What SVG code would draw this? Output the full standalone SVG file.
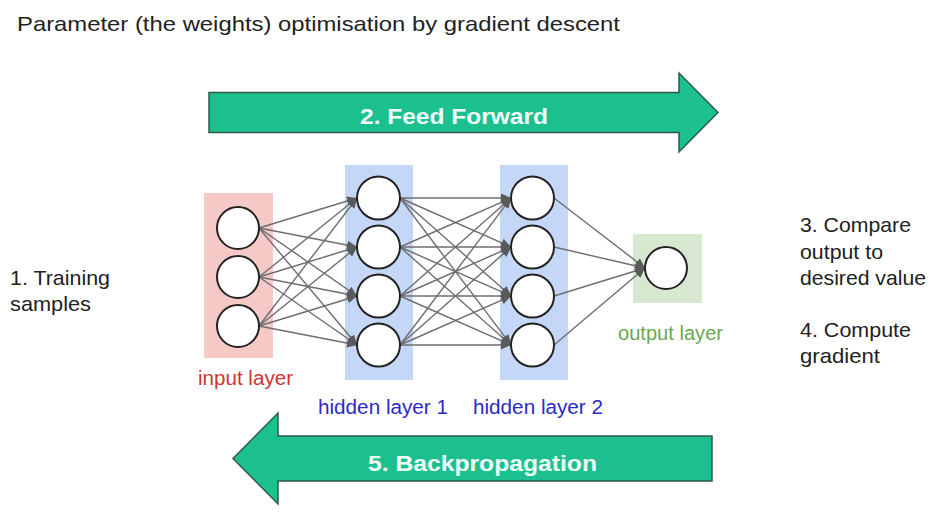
<svg xmlns="http://www.w3.org/2000/svg" width="951" height="520" viewBox="0 0 951 520">
<defs>
<style>
.txt{font-family:"Liberation Sans",Arial,sans-serif;font-size:21px;fill:#222}
.lbl{font-family:"Liberation Sans",Arial,sans-serif;font-size:20px}
.big{font-family:"Liberation Sans",Arial,sans-serif;font-size:22px;font-weight:bold;fill:#effff8}
.arrow{fill:#1cc08f;stroke:#2f5a4a;stroke-width:1.5}
.node{fill:#fff;stroke:#222;stroke-width:2}
.conn line{stroke:#6e6e6e;stroke-width:1.4;marker-end:url(#ah)}
</style>
<marker id="ah" markerUnits="userSpaceOnUse" markerWidth="11" markerHeight="9" refX="10" refY="4.5" orient="auto">
<path d="M0,0 L10,4.5 L0,9 z" fill="#5a5a5a"/>
</marker>
</defs>
<rect width="951" height="520" fill="#fff"/>
<text class="txt" x="17" y="31" textLength="603" lengthAdjust="spacingAndGlyphs">Parameter (the weights) optimisation by gradient descent</text>

<g id="feed-forward">
<polygon class="arrow" points="209,92.5 679,92.5 679,73 718,112.5 679,152 679,132.5 209,132.5"/>
<text class="big" x="360" y="124" textLength="188" lengthAdjust="spacingAndGlyphs">2. Feed Forward</text>
</g>
<g id="backpropagation">
<polygon class="arrow" points="712,436 278,436 278,413 233,458.5 278,504 278,481 712,481"/>
<text class="big" x="368" y="471" textLength="229" lengthAdjust="spacingAndGlyphs">5. Backpropagation</text>
</g>

<g id="layer-bg">
<rect id="input-layer-bg" x="204" y="193" width="69" height="165" fill="#f4c9c6"/>
<rect id="hidden1-bg" x="345" y="165" width="68" height="215" fill="#c5d7f6"/>
<rect id="hidden2-bg" x="500" y="165" width="68" height="215" fill="#c5d7f6"/>
<rect id="output-layer-bg" x="633" y="234" width="69" height="69" fill="#d6e8d0"/>
</g>

<g id="connectors" class="conn">
<line x1="259" y1="228" x2="357" y2="198"/>
<line x1="259" y1="228" x2="357" y2="247"/>
<line x1="259" y1="228" x2="357" y2="296"/>
<line x1="259" y1="228" x2="357" y2="345"/>
<line x1="259" y1="277" x2="357" y2="198"/>
<line x1="259" y1="277" x2="357" y2="247"/>
<line x1="259" y1="277" x2="357" y2="296"/>
<line x1="259" y1="277" x2="357" y2="345"/>
<line x1="259" y1="326" x2="357" y2="198"/>
<line x1="259" y1="326" x2="357" y2="247"/>
<line x1="259" y1="326" x2="357" y2="296"/>
<line x1="259" y1="326" x2="357" y2="345"/>

<line x1="400" y1="198" x2="511" y2="198"/>
<line x1="400" y1="198" x2="511" y2="247"/>
<line x1="400" y1="198" x2="511" y2="296"/>
<line x1="400" y1="198" x2="511" y2="345"/>
<line x1="400" y1="247" x2="511" y2="198"/>
<line x1="400" y1="247" x2="511" y2="247"/>
<line x1="400" y1="247" x2="511" y2="296"/>
<line x1="400" y1="247" x2="511" y2="345"/>
<line x1="400" y1="296" x2="511" y2="198"/>
<line x1="400" y1="296" x2="511" y2="247"/>
<line x1="400" y1="296" x2="511" y2="296"/>
<line x1="400" y1="296" x2="511" y2="345"/>
<line x1="400" y1="345" x2="511" y2="198"/>
<line x1="400" y1="345" x2="511" y2="247"/>
<line x1="400" y1="345" x2="511" y2="296"/>
<line x1="400" y1="345" x2="511" y2="345"/>

<line x1="554" y1="198" x2="645" y2="268"/>
<line x1="554" y1="247" x2="645" y2="268"/>
<line x1="554" y1="296" x2="645" y2="268"/>
<line x1="554" y1="345" x2="645" y2="268"/>
</g>

<g id="input-layer">
<circle class="node" cx="238" cy="228" r="21"/>
<circle class="node" cx="238" cy="277" r="21"/>
<circle class="node" cx="238" cy="326" r="21"/>
<text class="lbl" x="198" y="385" textLength="95" lengthAdjust="spacingAndGlyphs" fill="#d03434">input layer</text>
</g>
<g id="hidden-layer-1">
<circle class="node" cx="378.5" cy="198" r="21.5"/>
<circle class="node" cx="378.5" cy="247" r="21.5"/>
<circle class="node" cx="378.5" cy="296" r="21.5"/>
<circle class="node" cx="378.5" cy="345" r="21.5"/>
<text class="lbl" x="318" y="414" textLength="130" lengthAdjust="spacingAndGlyphs" fill="#2b2bc4">hidden layer 1</text>
</g>
<g id="hidden-layer-2">
<circle class="node" cx="532.5" cy="198" r="21.5"/>
<circle class="node" cx="532.5" cy="247" r="21.5"/>
<circle class="node" cx="532.5" cy="296" r="21.5"/>
<circle class="node" cx="532.5" cy="345" r="21.5"/>
<text class="lbl" x="473" y="414" textLength="130" lengthAdjust="spacingAndGlyphs" fill="#2b2bc4">hidden layer 2</text>
</g>
<g id="output-layer">
<circle class="node" cx="666" cy="268" r="21"/>
<text class="lbl" x="618" y="340" textLength="105" lengthAdjust="spacingAndGlyphs" fill="#6aa84f">output layer</text>
</g>

<g id="training-samples">
<text class="txt" x="10" y="285" textLength="100" lengthAdjust="spacingAndGlyphs">1. Training</text>
<text class="txt" x="10" y="311" textLength="81" lengthAdjust="spacingAndGlyphs">samples</text>
</g>
<g id="compare-output">
<text class="txt" x="800" y="232" textLength="111" lengthAdjust="spacingAndGlyphs">3. Compare</text>
<text class="txt" x="800" y="258.5" textLength="83" lengthAdjust="spacingAndGlyphs">output to</text>
<text class="txt" x="800" y="285" textLength="126" lengthAdjust="spacingAndGlyphs">desired value</text>
</g>
<g id="compute-gradient">
<text class="txt" x="800" y="337" textLength="111" lengthAdjust="spacingAndGlyphs">4. Compute</text>
<text class="txt" x="800" y="363" textLength="80" lengthAdjust="spacingAndGlyphs">gradient</text>
</g>
</svg>
